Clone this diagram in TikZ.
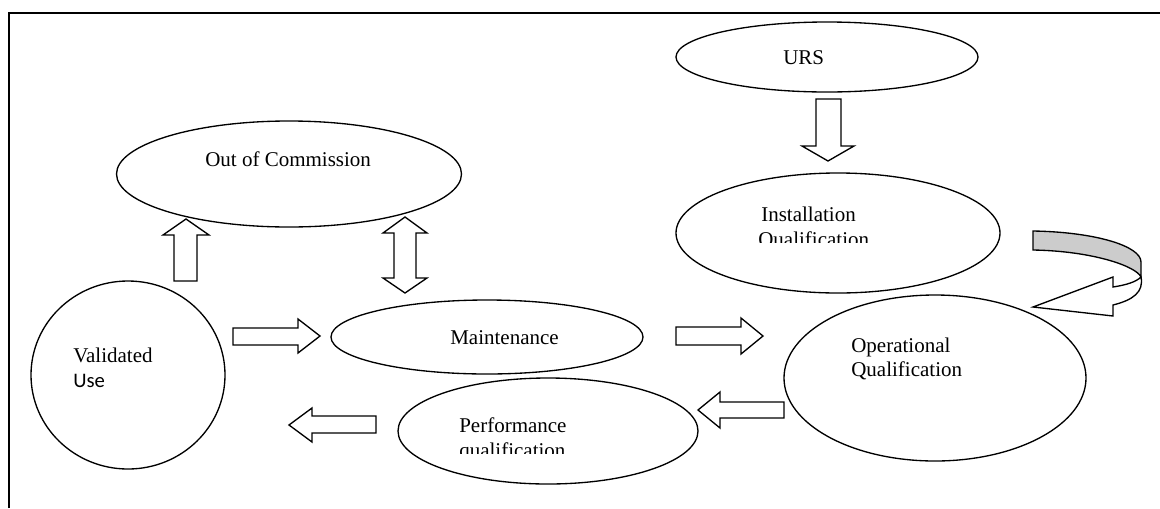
\documentclass[tikz,border=0pt]{standalone}
\usepackage{fontspec}
\setmainfont{Liberation Serif}
\newfontfamily\carlitofont{Carlito}
\usetikzlibrary{shapes.geometric}
\definecolor{ribbon}{RGB}{204,204,204}
\begin{document}
\begin{tikzpicture}[x=0.75pt,y=-0.75pt,line join=miter,
  oval/.style={ellipse, draw, line width=1pt, inner sep=0pt, outer sep=0pt},
  lbl/.style={anchor=base west, inner sep=0pt, font=\fontsize{15.75}{18}\selectfont},
  blockarrow/.style={draw, line width=1pt, fill=white},
  frameline/.style={line width=1.3pt}]
\useasboundingbox (0,0) rectangle (1160,508);
\draw[frameline] (9,508) -- (9,13) -- (1160,13);

% ellipses
\node[oval, minimum width=226.5pt, minimum height=52.5pt] (urs) at (827,57) {};
\node[oval, minimum width=258.75pt, minimum height=79.5pt] (ooc) at (289,174) {};
\node[oval, minimum width=243pt, minimum height=90pt] (iq) at (838,233) {};
\node[oval, minimum width=226.5pt, minimum height=124.5pt] (oq) at (935,378) {};
\node[oval, minimum width=234pt, minimum height=55.5pt] (mnt) at (487,337) {};
\node[oval, minimum width=225pt, minimum height=79.5pt] (pq) at (548,431) {};
\node[oval, minimum width=145.5pt, minimum height=141pt] (vu) at (128,375) {};

% labels
\node[lbl] (tooc) at (205,166) {Out of Commission};
\node[lbl] (turs) at (783,64) {URS};
\node[lbl] (tiq1) at (761,221) {Installation};
\begin{scope}
\clip (700,100) rectangle (1000,242);
\node[lbl] (tiq2) at (758,246) {Qualification};
\end{scope}
\node[lbl] (toq1) at (851,352) {Operational};
\node[lbl] (toq2) at (851,376) {Qualification};
\node[lbl] (tmnt) at (450,344) {Maintenance};
\node[lbl] (tpq1) at (459,432) {Performance};
\begin{scope}
\clip (400,300) rectangle (700,453);
\node[lbl] (tpq2) at (459,457) {qualification};
\end{scope}
\node[lbl] (tvu1) at (73,362) {Validated};
\node[lbl, font=\carlitofont\fontsize{15.5}{18}\selectfont] (tvu2) at (73,387) {Use};

% block arrows
% up: validated use -> out of commission
\draw[blockarrow] (174,281) -- (174,235) -- (163,235) -- (186,219) -- (209,235) -- (197,235) -- (197,281) -- cycle;
% double: out of commission <-> maintenance
\draw[blockarrow] (394,233) -- (383,233) -- (405,217) -- (427,233) -- (416,233) -- (416,278) -- (427,278) -- (405,293) -- (383,278) -- (394,278) -- cycle;
% down: URS -> installation
\draw[blockarrow] (816,99) -- (841,99) -- (841,146) -- (854,146) -- (828,161) -- (802,146) -- (816,146) -- cycle;
% right: validated use -> maintenance
\draw[blockarrow] (233,328) -- (298,328) -- (298,319) -- (320,336) -- (298,353) -- (298,345) -- (233,345) -- cycle;
% right: maintenance -> OQ
\draw[blockarrow] (676,327) -- (741,327) -- (741,318) -- (763,336) -- (741,354) -- (741,345) -- (676,345) -- cycle;
% left: OQ -> PQ
\draw[blockarrow] (784,402) -- (720,402) -- (720,392) -- (698,410) -- (720,428) -- (720,418) -- (784,418) -- cycle;
% left: PQ -> validated use
\draw[blockarrow] (376,416) -- (312,416) -- (312,408) -- (289,425) -- (312,442) -- (312,433) -- (376,433) -- cycle;

% curved ribbon arrow: installation -> operational
\draw[line width=1pt, fill=ribbon] (1033,231) .. controls (1095,232) and (1141,246) .. (1141,262) -- (1141,277) .. controls (1136,266) and (1092,251) .. (1033,250) -- cycle;
\draw[line width=1pt, fill=white] (1141,277) .. controls (1136,282) and (1126,285) .. (1113,287) -- (1113,277) -- (1033,307) -- (1113,316) -- (1113,305) .. controls (1133,300) and (1144,292) .. (1141,277) -- cycle;
\end{tikzpicture}
\end{document}
